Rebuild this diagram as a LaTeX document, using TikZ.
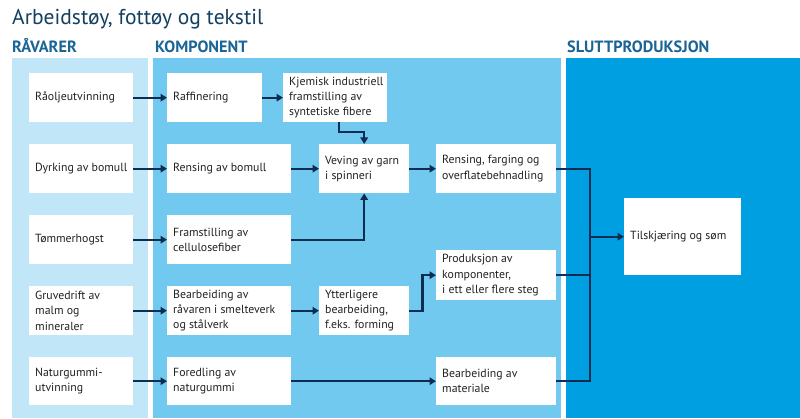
\documentclass[tikz,border=0pt]{standalone}
\usepackage{fontspec}
\setmainfont{PT Sans}
\usetikzlibrary{arrows.meta}
\hyphenpenalty=10000
\exhyphenpenalty=10000
\definecolor{pA}{HTML}{C0E6F7}
\definecolor{pB}{HTML}{72C9EF}
\definecolor{pC}{HTML}{009FE2}
\definecolor{ttl}{HTML}{14405F}
\definecolor{hdr}{HTML}{1A6496}
\definecolor{ln}{HTML}{0D2D52}
\definecolor{txt}{HTML}{222222}
\tikzset{
  bx/.style 2 args={fill=white, anchor=north west, inner sep=0pt,
    minimum width=#1, minimum height=#2},
  lbl/.style={anchor=west, xshift=6pt, inner sep=0pt, align=left,
    font=\fontsize{11.8}{15.3}\selectfont, text=txt},
  lb/.style={label={[lbl]west:{#1}}},
  hdrtxt/.style={anchor=base west, inner sep=0pt, text=hdr, font=\fontsize{16.3}{17}\selectfont\bfseries},
  wire/.style={draw=ln, line width=2.2pt},
  arr/.style={wire, -{Triangle[length=6.5pt,width=7.5pt]}}
}
\begin{document}
\begin{tikzpicture}[x=1pt,y=-1pt]
\useasboundingbox (0,0) rectangle (800,419);
% panels
\fill[pA] (12,58) rectangle (148,418);
\fill[pB] (153,58) rectangle (561,418);
\fill[pC] (566,58) rectangle (800,418);
% titles
\node[anchor=base west, inner sep=0pt, text=ttl, font=\fontsize{21.5}{23}\selectfont] (title) at (12,25) {Arbeidstøy, fottøy og tekstil};
\node[hdrtxt] (hA) at (12,53) {RÅVARER};
\node[hdrtxt] (hB) at (155,53) {KOMPONENT};
\node[hdrtxt] (hC) at (567,53) {SLUTTPRODUKSJON};
% column A
\node[bx={104pt}{49pt}, lb={Råoljeutvinning}] (olje) at (29,73) {};
\node[bx={104pt}{49pt}, lb={Dyrking av bomull}] (dyrk) at (29,144) {};
\node[bx={104pt}{49pt}, lb={Tømmerhogst}] (tomm) at (29,215) {};
\node[bx={104pt}{49pt}, lb={Gruvedrift av\\malm og\\mineraler}] (gruv) at (29,286) {};
\node[bx={104pt}{48pt}, lb={Naturgummi-\\utvinning}] (gummi) at (29,357) {};
% column B
\node[bx={95pt}{49pt}, lb={Raffinering}] (raff) at (167,73) {};
\node[bx={124pt}{49pt}, lb={Rensing av bomull}] (rbom) at (167,144) {};
\node[bx={124pt}{49pt}, lb={Framstilling av\\cellulosefiber}] (fram) at (167,215) {};
\node[bx={124pt}{49pt}, lb={Bearbeiding av\\råvaren i smelteverk\\og stålverk}] (bear) at (167,286) {};
\node[bx={124pt}{48pt}, lb={Foredling av\\naturgummi}] (fore) at (167,357) {};
% column C
\node[bx={104pt}{49pt}, lb={Kjemisk industriell\\framstilling av\\syntetiske fibere}] (kjem) at (283,73) {};
\node[bx={90pt}{49pt}, lb={Veving av garn\\i spinneri}] (vev) at (319,144) {};
\node[bx={90pt}{49pt}, lb={Ytterligere\\bearbeiding,\\f.eks. forming}] (ytt) at (319,286) {};
% column D
\node[bx={120pt}{49pt}, lb={Rensing, farging og\\overflatebehnadling}] (renf) at (436,144) {};
\node[bx={120pt}{50pt}, lb={Produksjon av\\komponenter,\\i ett eller flere steg}] (prod) at (436,250) {};
\node[bx={120pt}{48pt}, lb={Bearbeiding av\\materiale}] (bmat) at (436,357) {};
% final
\node[bx={117pt}{77pt}, lb={Tilskjæring og søm}] (tilsk) at (624,198) {};
\coordinate (bus) at (590,0);
% connectors
\draw[arr] (olje) -- (raff);
\draw[arr] (raff) -- (kjem);
\draw[arr] ([xshift=4pt]kjem.south) -- ++(0,10) -| (vev.north);
\draw[arr] (dyrk) -- (rbom);
\draw[arr] (rbom) -- (vev);
\draw[arr] (tomm) -- (fram);
\draw[arr] (fram.east) -| (vev.south);
\draw[arr] (vev) -- (renf);
\draw[arr] (gruv) -- (bear);
\draw[arr] (bear) -- (ytt);
\draw[arr] (ytt.east) -- ++(13,0) |- (prod.west);
\draw[arr] (gummi) -- (fore);
\draw[arr] (fore) -- (bmat);
\draw[wire] (renf.east) -- (renf.east -| bus) -- (bmat.east -| bus) -- (bmat.east);
\draw[wire] (prod.east) -- (prod.east -| bus);
\draw[arr] (tilsk.west -| bus) -- (tilsk.west);
\end{tikzpicture}
\end{document}
